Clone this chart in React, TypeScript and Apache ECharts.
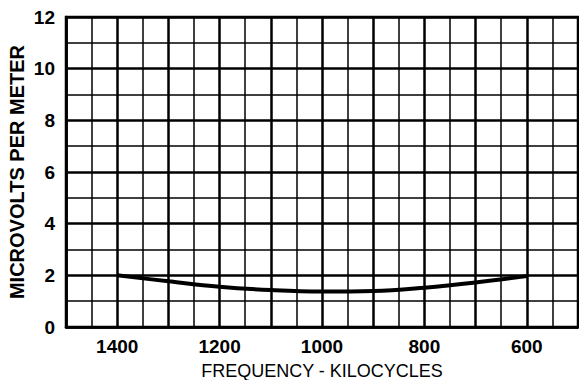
import React, { useEffect, useRef } from "react";
import * as echarts from "echarts";

const frequencies = [1400, 1300, 1200, 1100, 1000, 900, 800, 700, 600];
const microvolts = [2.0, 1.77, 1.56, 1.43, 1.37, 1.39, 1.52, 1.72, 1.97];
const xTickLabels = [1400, 1200, 1000, 800, 600];
const yTickLabels = [0, 2, 4, 6, 8, 10, 12];

const FONT = "'Liberation Sans', Arial, sans-serif";

export default function App() {
  const ref = useRef<HTMLDivElement>(null);
  useEffect(() => {
    if (!ref.current) return;
    const chart = echarts.init(ref.current, undefined, { renderer: "svg" });
    chart.setOption({
      animation: false,
      backgroundColor: "#ffffff",
      grid: {
        left: 66,
        right: 1,
        top: 17,
        bottom: 53,
        show: true,
        borderColor: "#000",
        borderWidth: 2.5,
        containLabel: false,
        outerBoundsMode: "none",
      },
      xAxis: {
        type: "value",
        min: 500,
        max: 1500,
        interval: 100,
        inverse: true,
        minorTick: { show: false, splitNumber: 2 },
        axisLine: { show: true, lineStyle: { color: "#000", width: 2.5 } },
        axisTick: { show: false },
        splitLine: { show: true, lineStyle: { color: "#000", width: 2.5 } },
        minorSplitLine: { show: true, lineStyle: { color: "#000", width: 1.5 } },
        axisLabel: {
          color: "#000",
          fontFamily: FONT,
          fontWeight: "bold",
          fontSize: 19,
          margin: 10,
          formatter: (v: number) => (xTickLabels.includes(v) ? String(v) : ""),
        },
        name: "FREQUENCY - KILOCYCLES",
        nameLocation: "middle",
        nameGap: 35,
        nameMoveOverlap: false,
        nameTextStyle: { color: "#000", fontFamily: FONT, fontSize: 18, fontWeight: 500 },
      },
      yAxis: {
        type: "value",
        min: 0,
        max: 12,
        interval: 2,
        minorTick: { show: false, splitNumber: 2 },
        axisLine: { show: true, lineStyle: { color: "#000", width: 2.5 } },
        axisTick: { show: false },
        splitLine: { show: true, lineStyle: { color: "#000", width: 2.5 } },
        minorSplitLine: { show: true, lineStyle: { color: "#000", width: 1.5 } },
        axisLabel: {
          color: "#000",
          fontFamily: FONT,
          fontWeight: "bold",
          fontSize: 19,
          margin: 11,
          formatter: (v: number) => (yTickLabels.includes(v) ? String(v) : ""),
        },
        name: "MICROVOLTS PER METER",
        nameLocation: "middle",
        nameGap: 39,
        nameMoveOverlap: false,
        nameTextStyle: { color: "#000", fontFamily: FONT, fontSize: 20, fontWeight: "bold" },
      },
      series: [
        {
          type: "line",
          data: frequencies.map((f, i) => [f, microvolts[i]]),
          smooth: 0.4,
          showSymbol: false,
          lineStyle: { color: "#000", width: 4 },
        },
      ],
    });
    return () => chart.dispose();
  }, []);
  return (
    <div
      ref={ref}
      style={{ position: "fixed", left: 0, top: 0, width: 579, height: 380, background: "#fff" }}
    />
  );
}
